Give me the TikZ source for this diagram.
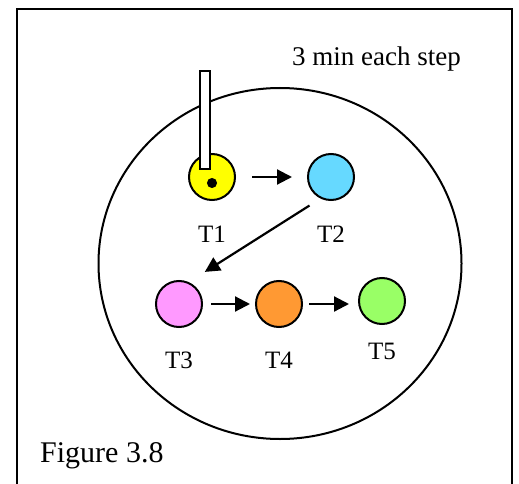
\documentclass[tikz,border=0pt]{standalone}
\usepackage{fontspec}
\setmainfont{Liberation Serif}
\usetikzlibrary{arrows.meta,positioning,shapes.geometric}
\definecolor{tyellow}{HTML}{FFFF00}
\definecolor{tblue}{HTML}{66D9FF}
\definecolor{tpink}{HTML}{FF99FF}
\definecolor{torange}{HTML}{FF9933}
\definecolor{tgreen}{HTML}{99FF66}

\begin{document}
\begin{tikzpicture}[
		x=1pt, y=-1pt,
		dish/.style={circle, draw=black, line width=2pt, minimum size=46pt,
				inner sep=0pt},
		tlabel/.style={inner sep=0pt, font=\fontsize{25}{25}\selectfont},
		arr/.style={-{Triangle[length=15pt,width=15pt]}, line width=2.2pt},
		]
		\useasboundingbox (0,0) rectangle (519,484);

		% Rahmen (unten offen)
		\draw[line width=2pt] (17,484) -- (17,9) -- (512,9) -- (512,484);

		% Platte
		\node[ellipse, draw=black, line width=2pt, minimum width=363pt,
			minimum height=351pt, inner sep=0pt] (plate) at (280,263.5) {};

		% Positionen
		\node[dish, fill=tyellow] (t1) at (212,177) {};
		\node[dish, fill=tblue]   (t2) at (331,177) {};
		\node[dish, fill=tpink]   (t3) at (179,304) {};
		\node[dish, fill=torange] (t4) at (279,304) {};
		\node[dish, fill=tgreen]  (t5) at (382,301) {};

		% Stab und Punkt
		\node[rectangle, draw=black, fill=white, line width=2pt,
			minimum width=10pt, minimum height=98pt, inner sep=0pt]
		(probe) at (205,120) {};
		\node[circle, fill=black, draw=black, line width=1pt,
			minimum size=9pt, inner sep=0pt] (dot) at (212,183) {};

		% Beschriftungen
		\node[tlabel, below=25pt of t1] (l1) {T1};
		\node[tlabel, below=25pt of t2] (l2) {T2};
		\node[tlabel, below=24pt of t3] (l3) {T3};
		\node[tlabel, below=24pt of t4] (l4) {T4};
		\node[tlabel, below=18pt of t5] (l5) {T5};

		\node[anchor=base west, inner sep=0pt, font=\fontsize{27}{27}\selectfont]
		(note) at (292,66) {3 min each step};
		\node[anchor=base west, inner sep=0pt, font=\fontsize{30}{30}\selectfont]
		(caption) at (40,462) {Figure 3.8};

		% Pfeile
		\draw[arr, shorten <=16pt, shorten >=15pt] (t1) -- (t2);
		\draw[arr, shorten <=13pt, shorten >=19pt] (t2.244) -- (t3.66);
		\draw[arr, shorten <=8pt, shorten >=5pt] (t3) -- (t4);
		\draw[arr, shorten <=6pt, shorten >=9pt] (t4.east) -- (t4.east -| t5.west);

	\end{tikzpicture}
\end{document}
